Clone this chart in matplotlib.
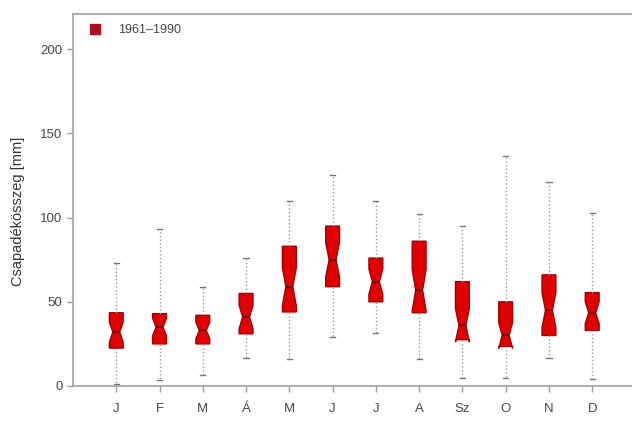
import numpy as np
import matplotlib.pyplot as plt

plt.rcParams['font.family'] = ['Liberation Sans', 'DejaVu Sans']

# havi csapadékösszeg, 1961-1990
honapok = ['J', 'F', 'M', 'Á', 'M', 'J', 'J', 'A', 'Sz', 'O', 'N', 'D']
also_bajusz = [1, 3.5, 6.5, 16.5, 16, 29, 31.5, 16, 5, 5, 16.5, 4]
also_kvartilis = [22.5, 25, 25, 31, 44, 59, 50, 43.5, 27.5, 23.5, 30, 33]
median = [32, 35, 33, 41, 59, 75, 62, 57, 36, 30, 45, 43.5]
felso_kvartilis = [43.5, 43, 42, 55, 83, 95, 76, 86, 62, 50, 66, 55.5]
felso_bajusz = [73, 93.5, 59, 76, 110, 125.5, 110, 102, 95, 136.5, 121, 103]
n_ev = 30

stats = []
for i in range(len(honapok)):
    iqr = felso_kvartilis[i] - also_kvartilis[i]
    d = 1.58 * iqr / np.sqrt(n_ev)
    stats.append({
        'med': median[i], 'q1': also_kvartilis[i], 'q3': felso_kvartilis[i],
        'whislo': also_bajusz[i], 'whishi': felso_bajusz[i],
        'cilo': median[i] - d, 'cihi': median[i] + d, 'fliers': [],
    })

fig = plt.figure(figsize=(6.32, 4.23), dpi=100)
ax = fig.add_axes([0.1155, 0.0875, 0.8845, 0.8795])

pos = np.arange(1, len(honapok) + 1)
ax.bxp(stats, positions=pos, widths=0.32, shownotches=True, patch_artist=True,
       boxprops=dict(facecolor='#e00000', edgecolor='#a00000', linewidth=1),
       medianprops=dict(color='#7a0000', linewidth=1.5),
       whiskerprops=dict(color='#999999', linestyle=':', linewidth=1),
       capprops=dict(color='#777777', linewidth=1),
       capwidths=0.12)

ax.set_xlim(0, 12.92)
ax.set_ylim(0, 221)
ax.set_xticks(pos)
ax.set_xticklabels(honapok)
ax.set_yticks([0, 50, 100, 150, 200])
ax.set_ylabel('Csapadékösszeg [mm]', fontsize=10.5, color='#333333', labelpad=9)
ax.yaxis.set_label_coords(-0.085, 0.47)

for s in ['left', 'bottom', 'top']:
    ax.spines[s].set_color('#a8a8a8')
    ax.spines[s].set_linewidth(1.3)
ax.spines['right'].set_visible(False)
ax.tick_params(colors='#999999', labelcolor='#444444', labelsize=9.5, length=4, width=1)
ax.tick_params(axis='x', pad=8)

ax.plot([], [], 's', color='#b01020', markersize=7, label='1961–1990')
leg = ax.legend(loc='upper left', frameon=False, fontsize=9, handletextpad=0.8,
                borderaxespad=0.4, bbox_to_anchor=(0.0, 1.0))
for t in leg.get_texts():
    t.set_color('#444444')

fig.savefig('out.png', dpi=100)
